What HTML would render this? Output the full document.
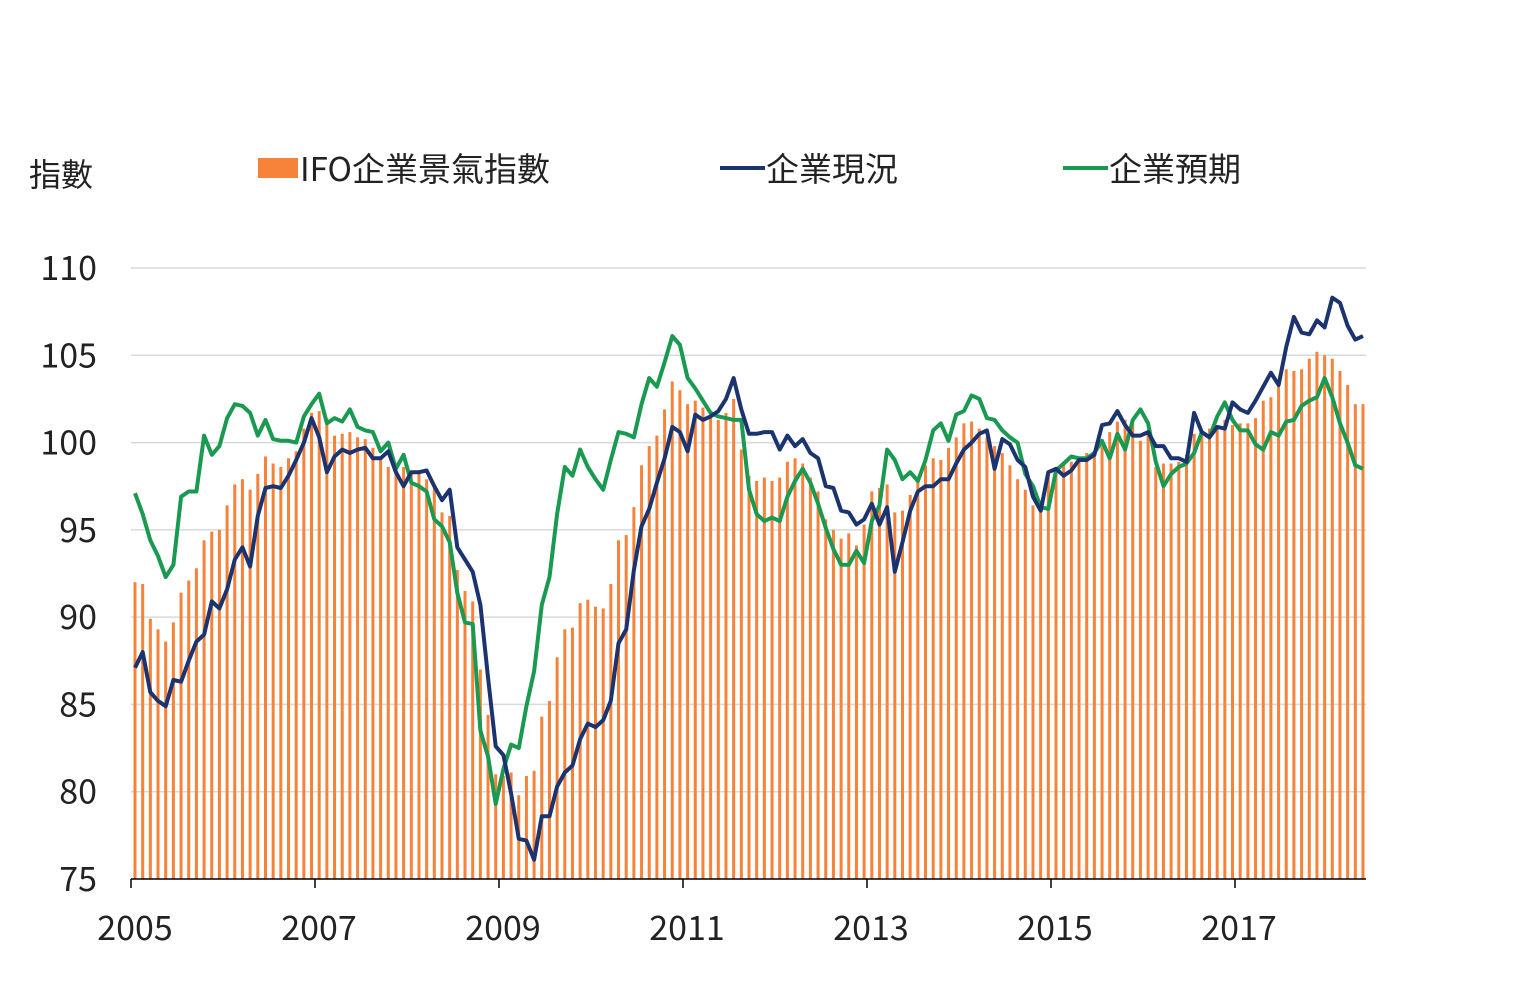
<!DOCTYPE html>
<html><head><meta charset="utf-8"><style>
html,body{margin:0;padding:0;background:#fff;}
svg text{font-family:"Noto Sans CJK TC","Liberation Sans",sans-serif;fill:#222;}
</style></head><body>
<svg id="c" width="1525" height="993" xmlns="http://www.w3.org/2000/svg">
<text x="29" y="186" font-size="32">指數</text>
<rect x="258" y="158" width="40" height="20" fill="#F7823A"/>
<text x="300" y="181" font-size="33">IFO企業景氣指數</text>
<line x1="720" y1="168" x2="765" y2="168" stroke="#1B3470" stroke-width="4"/>
<text x="766" y="181" font-size="33">企業現況</text>
<line x1="1063" y1="168" x2="1108" y2="168" stroke="#1A9A50" stroke-width="4"/>
<text x="1109" y="181" font-size="33">企業預期</text>
<g id="g"></g>
</svg>
<script>
var ifo=[92,91.9,89.9,89.3,88.6,89.7,91.4,92.1,92.8,94.4,94.9,95,
96.4,97.6,97.9,97.3,98.2,99.2,98.8,98.6,99.1,99.5,100.8,101.7,
101.8,101.4,100.4,100.5,100.6,100.3,100.2,99.7,99.2,98.6,98.8,98.6,
98.3,98.2,97.9,97.4,96.0,95.8,92.7,91.5,90.9,87.0,84.4,81.0,
80.9,81.1,79.8,80.9,81.2,84.3,85.2,87.7,89.3,89.4,90.8,91.0,
90.6,90.5,91.9,94.4,94.7,96.3,98.7,99.8,100.4,101.9,103.5,103.0,
102.2,102.4,102.0,101.6,101.3,101.7,102.5,99.6,98.1,97.8,98.0,97.8,
98.0,98.9,99.1,98.8,98.0,97.2,95.6,95.0,94.5,94.8,94.1,95.3,
97.2,97.4,97.6,96.0,96.1,97.0,98.0,98.7,99.1,99.0,99.7,100.3,
101.1,101.2,100.8,100.3,99.8,99.4,98.7,97.9,97.3,96.4,96.2,98.3,
98.4,98.8,98.9,99.1,99.4,99.5,99.8,100.6,101.2,101.3,101.1,100.1,
100.7,98.6,98.8,98.8,98.9,99.3,100.5,100.4,100.8,101.0,101.3,101.0,
101.1,101.1,101.4,102.4,102.6,103.3,104.2,104.1,104.2,104.8,105.2,105.0,
104.8,104.1,103.3,102.2,102.2];
var cur=[87.1,88,85.7,85.2,84.9,86.4,86.3,87.5,88.6,89,90.9,90.5,
91.6,93.3,94,92.9,95.8,97.4,97.5,97.4,98.1,99,100,101.4,
100.3,98.3,99.2,99.6,99.4,99.6,99.7,99.1,99.1,99.5,98.3,97.5,
98.3,98.3,98.4,97.5,96.7,97.3,94,93.3,92.6,90.7,86.5,82.6,
82.1,79.9,77.3,77.2,76.1,78.6,78.6,80.3,81.1,81.5,83,83.9,
83.7,84.1,85.2,88.5,89.3,92.7,95.2,96.2,97.7,99.1,100.9,100.6,
99.5,101.6,101.3,101.5,101.8,102.5,103.7,101.9,100.5,100.5,100.6,100.6,
99.6,100.4,99.8,100.2,99.4,99.1,97.5,97.4,96.1,96,95.3,95.6,
96.5,95.3,96.3,92.6,94.3,96.1,97.2,97.5,97.5,97.9,97.9,98.8,
99.6,100,100.5,100.7,98.5,100.2,99.9,99,98.6,96.9,96.1,98.3,
98.5,98.1,98.4,99,99,99.3,101,101.1,101.8,101,100.4,100.4,
100.6,99.8,99.8,99.1,99.1,98.9,101.7,100.6,100.3,100.9,100.8,102.3,
101.9,101.7,102.4,103.2,104.0,103.3,105.5,107.2,106.3,106.2,107.0,106.6,
107.1,108.3,108.0,106.7,105.9,106.1];
cur=cur.slice(0,156).concat([108.3,108.0,106.7,105.9,106.1]);
var exp=[97.1,95.9,94.4,93.5,92.3,93.0,96.9,97.2,97.2,100.4,99.3,99.8,
101.4,102.2,102.1,101.7,100.4,101.3,100.2,100.1,100.1,100.0,101.5,102.2,
102.8,101.1,101.4,101.2,101.9,100.9,100.7,100.6,99.5,100.0,98.5,99.3,
97.7,97.5,97.2,95.6,95.2,94.3,91.4,89.7,89.6,83.5,82.0,79.3,
81.3,82.7,82.5,84.9,86.9,90.7,92.3,95.9,98.6,98.1,99.6,98.6,
97.9,97.3,99.0,100.6,100.5,100.3,102.2,103.7,103.2,104.6,106.1,105.6,
103.7,103.1,102.4,101.7,101.5,101.4,101.3,101.3,97.3,95.9,95.5,95.7,
95.5,96.9,97.8,98.5,97.7,96.5,95.1,93.9,93.0,93.0,93.8,93.1,
95.5,96.4,99.6,99.0,97.9,98.3,97.8,99.0,100.7,101.1,100.1,101.6,
101.8,102.7,102.5,101.4,101.3,100.7,100.3,100.0,98.2,97.5,96.3,96.2,
98.4,98.8,99.2,99.1,99.1,99.4,100.1,99.1,100.5,99.6,101.3,101.9,
101.1,98.9,97.5,98.2,98.6,98.8,99.4,100.6,100.3,101.5,102.3,101.3,
100.7,100.7,99.9,99.6,100.6,100.4,101.2,101.3,102.1,102.4,102.6,103.7,
102.6,101.1,100.0,98.7,98.5];
function Y(v){return 879-(v-75)*611/35;}
function X(i){return 135+i*7.675;}
var s='';
for(var v=80;v<=110;v+=5){s+='<line x1="131" x2="1366" y1="'+Y(v)+'" y2="'+Y(v)+'" stroke="#d9d9d9" stroke-width="1.5"/>';}
for(var v=75;v<=110;v+=5){s+='<text x="97" y="'+(Y(v)+12)+'" font-size="34" text-anchor="end">'+v+'</text>';}
for(var i=0;i<ifo.length;i++){var y=Y(ifo[i]);s+='<rect x="'+(X(i)-1.5)+'" y="'+y+'" width="3" height="'+(879-y)+'" fill="#F7823A"/>';}
function line(a,c){var p=a.map(function(v,i){return X(i).toFixed(1)+','+Y(v).toFixed(1)}).join(' ');return '<polyline points="'+p+'" fill="none" stroke="'+c+'" stroke-width="4" stroke-linejoin="round"/>';}
s+=line(exp,'#1A9A50');s+=line(cur,'#1B3470');
s+='<line x1="131" x2="1366" y1="879" y2="879" stroke="#000" stroke-width="1.5"/>';
for(var k=0;k<7;k++){var x=131+k*184;s+='<line x1="'+x+'" x2="'+x+'" y1="879" y2="888" stroke="#000" stroke-width="1.5"/>';s+='<text x="'+(x+4)+'" y="940" font-size="34" text-anchor="middle">'+(2005+2*k)+'</text>';}
document.getElementById('g').innerHTML=s;
</script>
</body></html>
